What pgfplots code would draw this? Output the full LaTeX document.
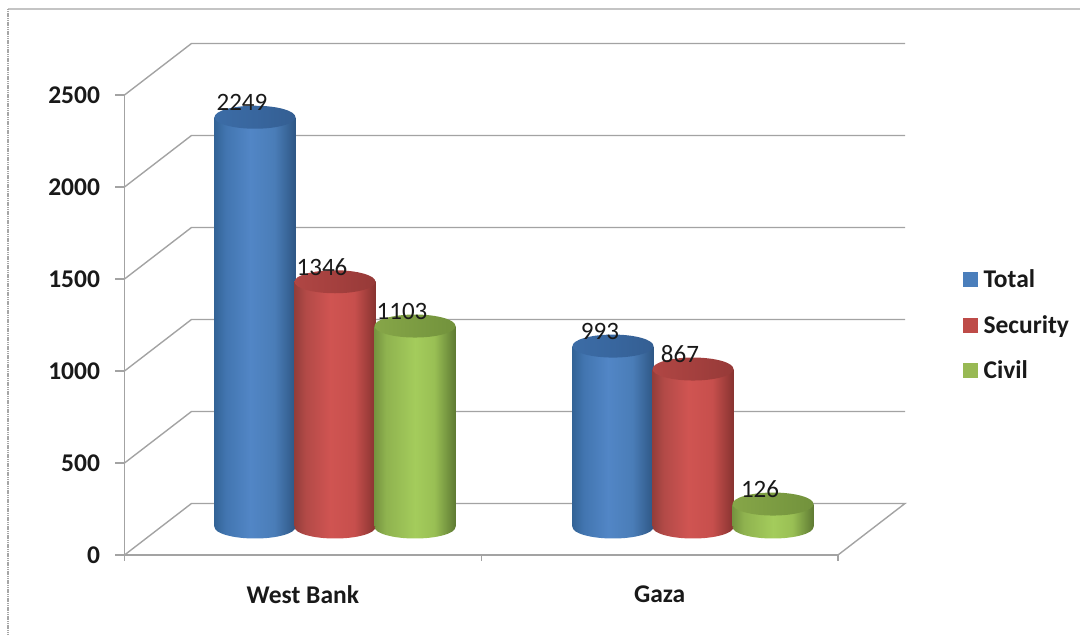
\documentclass[border=0pt]{standalone}
\usepackage{fontspec}
\setmainfont{Carlito}
\usepackage{pgfplots}
\usepackage{pgfplotstable}
\pgfplotsset{compat=1.18}

\definecolor{wallgray}{HTML}{A3A3A3}
\definecolor{framegray}{HTML}{C4C4C4}
\definecolor{legblue}{HTML}{4A7EBB}
\definecolor{legred}{HTML}{BE4B48}
\definecolor{leggreen}{HTML}{98B954}

% Cylinder side and cap shadings; the visible range of a fitted shading is 25bp to 75bp
\pgfdeclarehorizontalshading{bluecyl}{100bp}{
  rgb(0bp)=(0.20,0.39,0.59);
  rgb(25bp)=(0.20,0.39,0.59);
  rgb(32bp)=(0.26,0.46,0.69);
  rgb(47bp)=(0.32,0.525,0.776);
  rgb(62bp)=(0.29,0.49,0.72);
  rgb(75bp)=(0.18,0.34,0.52);
  rgb(100bp)=(0.18,0.34,0.52)}
\pgfdeclarehorizontalshading{redcyl}{100bp}{
  rgb(0bp)=(0.58,0.24,0.23);
  rgb(25bp)=(0.58,0.24,0.23);
  rgb(32bp)=(0.70,0.29,0.28);
  rgb(47bp)=(0.815,0.33,0.32);
  rgb(62bp)=(0.78,0.31,0.30);
  rgb(75bp)=(0.53,0.20,0.19);
  rgb(100bp)=(0.53,0.20,0.19)}
\pgfdeclarehorizontalshading{greencyl}{100bp}{
  rgb(0bp)=(0.46,0.58,0.25);
  rgb(25bp)=(0.46,0.58,0.25);
  rgb(32bp)=(0.56,0.70,0.31);
  rgb(50bp)=(0.643,0.80,0.36);
  rgb(62bp)=(0.60,0.75,0.33);
  rgb(75bp)=(0.37,0.48,0.20);
  rgb(100bp)=(0.37,0.48,0.20)}
\pgfdeclarehorizontalshading{bluecap}{100bp}{
  rgb(0bp)=(0.235,0.424,0.65);
  rgb(25bp)=(0.235,0.424,0.65);
  rgb(50bp)=(0.22,0.40,0.62);
  rgb(75bp)=(0.204,0.37,0.573);
  rgb(100bp)=(0.204,0.37,0.573)}
\pgfdeclarehorizontalshading{redcap}{100bp}{
  rgb(0bp)=(0.69,0.275,0.267);
  rgb(25bp)=(0.69,0.275,0.267);
  rgb(50bp)=(0.643,0.25,0.243);
  rgb(75bp)=(0.588,0.227,0.22);
  rgb(100bp)=(0.588,0.227,0.22)}
\pgfdeclarehorizontalshading{greencap}{100bp}{
  rgb(0bp)=(0.525,0.65,0.282);
  rgb(25bp)=(0.525,0.65,0.282);
  rgb(50bp)=(0.486,0.612,0.259);
  rgb(75bp)=(0.447,0.573,0.235);
  rgb(100bp)=(0.447,0.573,0.235)}

% Cylinder ends as plot marks: a full ellipse on top, the lower half at the foot
\newcommand{\capmark}[2]{%
  \pgfdeclareplotmark{#1}{%
    \pgfpathellipse{\pgfpointorigin}{\pgfqpoint{40.5pt}{0pt}}{\pgfqpoint{0pt}{11.5pt}}%
    \pgfshadepath{#2}{0}%
    \pgfusepath{discard}}}
\newcommand{\footmark}[2]{%
  \pgfdeclareplotmark{#1}{%
    \pgfpathmoveto{\pgfqpoint{-40.5pt}{0.5pt}}%
    \pgfpathlineto{\pgfqpoint{-40.5pt}{0pt}}%
    \pgfpatharc{180}{360}{40.5pt and 11.5pt}%
    \pgfpathlineto{\pgfqpoint{40.5pt}{0.5pt}}%
    \pgfpathclose
    \pgfshadepath{#2}{0}%
    \pgfusepath{discard}}}
\footmark{bluebase}{bluecyl}
\footmark{redbase}{redcyl}
\footmark{greenbase}{greencyl}
\capmark{bluetop}{bluecap}
\capmark{redtop}{redcap}
\capmark{greentop}{greencap}

% Position of each cylinder (category index plus offset) and its value
\pgfplotstableread{
pos     value
-0.2235 2249
0.7765  993
}\totaltable
\pgfplotstableread{
pos     value
0.0     1346
1.0     867
}\securitytable
\pgfplotstableread{
pos     value
0.2235  1103
1.2235  126
}\civiltable

\newcommand{\labelfont}{\fontsize{25.5}{25.5}\selectfont\bfseries}

% One cylinder per bar, so that each body gets a shading of its own
\newcommand{\bodies}[2]{%
  \addplot[forget plot, ybar, bar width=81pt, bar shift=0pt, draw=none, shade, shading=#1, shading angle=0, nodes near coords=\empty, skip coords between index={1}{2}] table[x=pos, y=value] {#2};
  \addplot[forget plot, ybar, bar width=81pt, bar shift=0pt, draw=none, shade, shading=#1, shading angle=0, nodes near coords=\empty, skip coords between index={0}{1}] table[x=pos, y=value] {#2};
}

\begin{document}
\begin{tikzpicture}[x=1pt,y=1pt]
\useasboundingbox (0,0) rectangle (1080,635);
% chart frame
\draw[framegray,line width=1.6pt] (1080,626) -- (7.5,626);
\draw[gray!70,line width=2pt,dash pattern=on 1.2pt off 0.6pt] (7.5,626) -- (7.5,0);

% Axis frame, side wall and back wall
\begin{axis}[
  at={(124.5pt,80pt)}, anchor=south west,
  scale only axis, width=713.5pt, height=460pt,
  xmin=0, xmax=2, ymin=0, ymax=2500,
  clip=false,
  axis x line=bottom, axis y line=left,
  axis line style={-, wallgray, line width=1.5pt},
  tick align=outside,
  xtick={0.5,1.5}, xticklabels={West Bank,Gaza},
  minor xtick={0,1,2},
  ytick={0,500,1000,1500,2000,2500},
  major tick length=9pt, minor tick length=6pt,
  major x tick style={draw=none},
  minor x tick style={wallgray,line width=1.5pt},
  ytick style={wallgray,line width=1.5pt},
  /pgf/number format/assume math mode=true,
  /pgf/number format/1000 sep={},
  tick label style={font=\labelfont, text=black!90},
  xticklabel style={yshift=-18pt},
  yticklabel style={xshift=-12pt},
]
\addplot[wallgray,line width=1.4pt] coordinates {(0,0) (0.1878,280) (2.1878,280) (2,0)};
\addplot[wallgray,line width=1.4pt] coordinates {(0,500) (0.1878,780) (2.1878,780)};
\addplot[wallgray,line width=1.4pt] coordinates {(0,1000) (0.1878,1280) (2.1878,1280)};
\addplot[wallgray,line width=1.4pt] coordinates {(0,1500) (0.1878,1780) (2.1878,1780)};
\addplot[wallgray,line width=1.4pt] coordinates {(0,2000) (0.1878,2280) (2.1878,2280)};
\addplot[wallgray,line width=1.4pt] coordinates {(0,2500) (0.1878,2780) (2.1878,2780)};
\end{axis}

% Cylinders standing on the floor, with the legend
\begin{axis}[
  at={(335pt,108pt)}, anchor=south west,
  scale only axis, width=358pt, height=455.5pt,
  xmin=0, xmax=1, ymin=0, ymax=2500,
  clip=false, hide axis,
  /pgf/number format/assume math mode=true,
  /pgf/number format/1000 sep={},
  legend style={at={(1.754,0.4435)}, anchor=west, draw=none, fill=none,
    font=\labelfont, row sep=26pt, inner sep=0pt,
    /tikz/every odd column/.append style={column sep=6pt},
    nodes={inner sep=0pt, text=black!90}},
  legend cell align=left,
  legend image code/.code={\fill[#1] (0pt,-7pt) rectangle (14pt,7pt);},
  legend columns=1,
  nodes near coords,
  every node near coord/.append style={font=\fontsize{25}{25}\selectfont, text=black!90,
     anchor=center, xshift=-13pt, yshift=15pt},
]
\addlegendimage{legblue}\addlegendentry{Total}
\addlegendimage{legred}\addlegendentry{Security}
\addlegendimage{leggreen}\addlegendentry{Civil}

% Total
\bodies{bluecyl}{\totaltable}
\addplot[forget plot, only marks, mark=bluebase, nodes near coords=\empty] table[x=pos, y expr=0] {\totaltable};
\addplot[forget plot, only marks, mark=bluetop] table[x=pos, y=value] {\totaltable};
% Security
\bodies{redcyl}{\securitytable}
\addplot[forget plot, only marks, mark=redbase, nodes near coords=\empty] table[x=pos, y expr=0] {\securitytable};
\addplot[forget plot, only marks, mark=redtop] table[x=pos, y=value] {\securitytable};
% Civil
\bodies{greencyl}{\civiltable}
\addplot[forget plot, only marks, mark=greenbase, nodes near coords=\empty] table[x=pos, y expr=0] {\civiltable};
\addplot[forget plot, only marks, mark=greentop] table[x=pos, y=value] {\civiltable};
\end{axis}
\end{tikzpicture}
\end{document}
